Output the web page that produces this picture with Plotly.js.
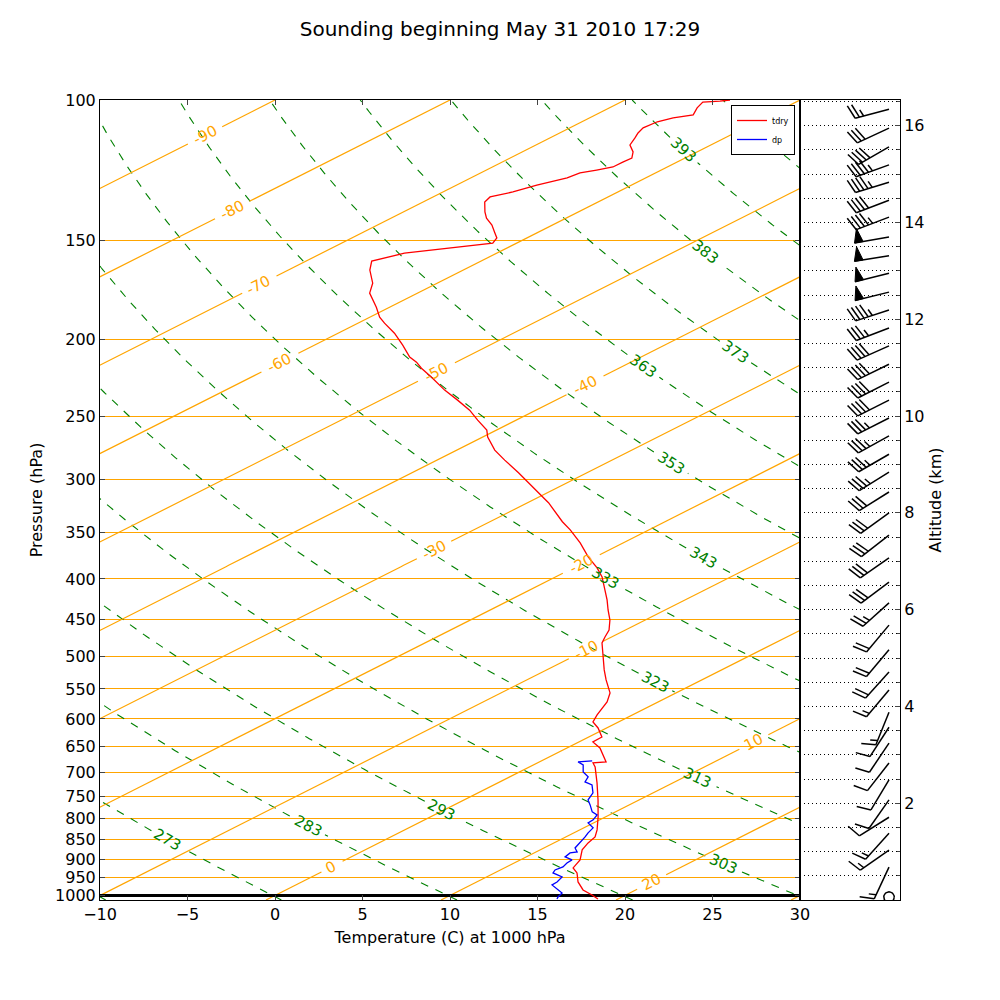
<!DOCTYPE html>
<html><head><meta charset="utf-8">
<script src="https://cdn.plot.ly/plotly-3.0.1.min.js"></script>
<style>body{margin:0;background:#fff}</style>
</head><body><div id="chart" style="width:1000px;height:1000px"></div>
<script>
// ---------------- DATA ----------------
const tdryP = [1010.2, 998.6, 984.2, 961.7, 936.9, 923.4, 902.2, 876.5, 859.0, 844.2, 827.2, 796.7, 758.4, 722.0, 689.3, 681.4, 679.4, 652.5, 641.3, 632.1, 615.8, 605.2, 593.0, 582.8, 571.1, 556.4, 535.8, 520.5, 495.6, 481.5, 473.2, 463.7, 450.5, 437.6, 425.1, 413.0, 403.5, 397.7, 387.5, 375.3, 360.4, 347.0, 339.0, 320.8, 315.3, 302.8, 294.1, 283.6, 275.5, 265.3, 260.0, 252.6, 245.4, 238.4, 231.6, 223.1, 217.4, 213.6, 210.5, 203.3, 196.4, 190.8, 187.5, 182.2, 174.9, 169.9, 163.6, 159.4, 155.8, 151.3, 149.1, 146.6, 143.6, 140.8, 138.3, 134.4, 132.4, 130.5, 127.9, 125.3, 123.5, 122.5, 121.4, 119.7, 118.3, 116.2, 113.9, 111.6, 110.0, 108.4, 106.5, 105.3, 104.4, 102.3, 100.6, 100.3, 100.0];
const tdryT = [18.85, 18.06, 16.98, 15.79, 14.71, 13.92, 13.41, 12.40, 11.95, 11.67, 10.99, 9.58, 7.65, 5.67, 3.75, 3.18, 3.81, 1.88, 0.80, 0.75, -0.49, -1.46, -2.02, -2.42, -2.92, -3.77, -5.47, -6.71, -8.69, -9.88, -10.39, -10.95, -12.03, -13.27, -14.46, -15.71, -16.73, -17.35, -18.65, -20.41, -22.45, -24.50, -25.86, -28.81, -29.83, -32.21, -33.92, -36.13, -37.83, -39.71, -40.55, -42.20, -43.79, -45.61, -47.48, -49.69, -51.28, -52.25, -53.21, -54.97, -56.79, -58.49, -59.45, -60.76, -62.74, -63.70, -65.34, -66.25, -65.27, -61.37, -61.71, -62.50, -63.46, -64.54, -65.33, -66.46, -66.74, -66.00, -65.42, -64.49, -64.32, -63.69, -63.11, -63.10, -63.04, -63.67, -64.63, -65.14, -65.53, -65.81, -65.69, -65.23, -64.42, -64.99, -65.32, -64.46, -64.00];

const dpP = [1010.2, 1004.3, 992.8, 984.2, 970.0, 961.7, 947.8, 936.9, 928.9, 920.8, 910.3, 902.2, 894.5, 884.2, 881.6, 871.5, 864.0, 856.5, 844.2, 834.3, 822.3, 810.5, 803.5, 792.0, 785.1, 769.4, 758.4, 743.2, 726.2, 719.9, 709.5, 699.3, 685.3, 679.4, 677.4];
const dpT = [16.51, 16.34, 16.12, 15.55, 14.64, 14.59, 14.31, 13.34, 13.12, 13.23, 13.01, 12.95, 12.22, 12.05, 12.34, 11.77, 11.60, 11.38, 11.10, 10.81, 10.53, 9.68, 9.63, 9.29, 8.67, 7.76, 7.08, 6.57, 5.61, 4.87, 4.48, 3.63, 2.84, 2.21, 2.90];

const pressureTicks = [100, 150, 200, 250, 300, 350, 400, 450, 500, 550, 600, 650, 700, 750, 800, 850, 900, 950, 1000];
const tempTicks = [-10, -5, 0, 5, 10, 15, 20, 25, 30];
const altTicks = [2, 4, 6, 8, 10, 12, 14, 16];

const isotherms = [-100, -90, -80, -70, -60, -50, -40, -30, -20, -10, 0, 10, 20, 30];
const isothermLabelT = [-90, -80, -70, -60, -50, -40, -30, -20, -10, 0, 10, 20];
const adiabats = [263, 273, 283, 293, 303, 313, 323, 333, 343, 353, 363, 373, 383, 393, 403, 413];
const adiabatLabelTheta = [273, 283, 293, 303, 313, 323, 333, 343, 353, 363, 373, 383, 393, 403];

const barbAlt = [16.34, 15.95, 15.56, 15.19, 14.83, 14.46, 14.11, 13.70, 13.31, 12.95, 12.56, 12.19, 11.82, 11.45, 11.07, 10.70, 10.33, 9.96, 9.59, 9.21, 8.84, 8.43, 8.00, 7.54, 7.07, 6.57, 6.14, 5.68, 5.17, 4.71, 4.34, 3.88, 3.57, 3.24, 2.83, 2.48, 2.07, 1.71, 1.38, 1.03, 0.68, 0.06];
const barbDir = [255, 245, 240, 250, 253, 249, 249, 260, 261, 256, 256, 252, 249, 246, 244, 243, 243, 243, 241, 240, 238, 238, 234, 232, 235, 233, 228, 220, 220, 222, 220, 202, 213, 214, 218, 211, 215, 238, 222, 235, 205, 0];
const barbSpeed = [25, 30, 40, 45, 45, 40, 45, 50, 50, 50, 50, 45, 35, 40, 40, 40, 40, 35, 35, 35, 35, 30, 30, 30, 30, 30, 25, 20, 20, 20, 15, 15, 10, 10, 10, 10, 10, 10, 15, 15, 15, 0];

// ---------------- LAYOUT / STYLE CONSTANTS ----------------
// label positions (pressure level where each contour label sits)
const isothermLabelP = [110.7, 137.5, 170.8, 214.1, 219.7, 228.2, 367.8, 383.0, 491.3, 920.8, 641.3, 961.7];
const adiabatLabelP = [851.6, 817.8, 780.8, 912.9, 711.7, 539.0, 398.9, 376.5, 285.9, 215.9, 207.4, 155.3, 115.6, 111.3];

const FONT = 'DejaVu Sans, Liberation Sans, sans-serif';
const ORANGE = '#FFA500', GREEN = '#008000';
const SKEW = 90, P_REF = 1000, P_BOTTOM = 1013.25, P_TOP = 100;
const X_MIN = -10, X_MAX = 30, ALT_MAX = 16.53;
const FIG_W = 1000, FIG_H = 1000;
const MARGIN = {l: 100, r: 100, t: 100, b: 100};
const PLOT_W = FIG_W - MARGIN.l - MARGIN.r, PLOT_H = FIG_H - MARGIN.t - MARGIN.b;
const MAIN_FRAC = 0.875;
const LABEL_FONT = 15;

function skewX(T, p) { return T + SKEW * Math.log10(P_REF / p); }
function sx(x) { return MARGIN.l + (x - X_MIN) / (X_MAX - X_MIN) * PLOT_W * MAIN_FRAC; }
function sy(p) { return MARGIN.t + (Math.log10(p) - Math.log10(P_TOP)) / (Math.log10(P_BOTTOM) - Math.log10(P_TOP)) * PLOT_H; }
function adiabatT(theta, p) { return theta * Math.pow(p / 1000, 0.2857) - 273.15; }

function buildLine(xfun, labels) {
  const centers = labels.map(l => ({X: sx(xfun(l.p)), Y: sy(l.p), r: l.r}));
  const xs = [], ys = [];
  const N = 600, lb = Math.log10(P_BOTTOM), lt = Math.log10(P_TOP);
  for (let i = 0; i <= N; i++) {
    const p = Math.pow(10, lb + (lt - lb) * i / N);
    const x = xfun(p);
    const X = sx(x), Y = sy(p);
    if (centers.some(c => Math.hypot(X - c.X, Y - c.Y) < c.r)) { xs.push(null); ys.push(null); }
    else { xs.push(x); ys.push(p); }
  }
  return {xs, ys};
}
function angleAt(xfun, p) {
  const p1 = p * 0.98, p2 = p * 1.02;
  const dx = sx(xfun(p1)) - sx(xfun(p2)), dy = sy(p1) - sy(p2);
  let a = Math.atan2(dy, dx) * 180 / Math.PI;
  if (a > 90) a -= 180; if (a < -90) a += 180;
  return a;
}
function labelRadius(txt) { return txt.length * 0.6 * LABEL_FONT / 2 + 5; }

const traces = [];
const annotations = [];

// dry adiabats
adiabats.forEach(th => {
  const f = p => skewX(adiabatT(th, p), p);
  const li = adiabatLabelTheta.indexOf(th);
  const labels = [];
  if (li >= 0) {
    const txt = String(th), p = adiabatLabelP[li];
    labels.push({p: p, r: labelRadius(txt)});
    annotations.push({x: f(p), y: Math.log10(p), xref: 'x', yref: 'y', text: txt, showarrow: false,
      textangle: angleAt(f, p), xanchor: 'center', yanchor: 'middle',
      font: {family: FONT, size: LABEL_FONT, color: GREEN}});
  }
  const L = buildLine(f, labels);
  traces.push({type: 'scatter', mode: 'lines', x: L.xs, y: L.ys, xaxis: 'x', yaxis: 'y', showlegend: false,
    hoverinfo: 'skip', line: {color: GREEN, width: 1.1, dash: '8px,8px'}});
});

// isotherms
isotherms.forEach(T => {
  const f = p => skewX(T, p);
  const li = isothermLabelT.indexOf(T);
  const labels = [];
  if (li >= 0) {
    const txt = String(T), p = isothermLabelP[li];
    labels.push({p: p, r: labelRadius(txt)});
    annotations.push({x: f(p), y: Math.log10(p), xref: 'x', yref: 'y', text: txt, showarrow: false,
      textangle: angleAt(f, p), xanchor: 'center', yanchor: 'middle',
      font: {family: FONT, size: LABEL_FONT, color: ORANGE}});
  }
  const L = buildLine(f, labels);
  traces.push({type: 'scatter', mode: 'lines', x: L.xs, y: L.ys, xaxis: 'x', yaxis: 'y', showlegend: false,
    hoverinfo: 'skip', line: {color: ORANGE, width: 1.2}});
});

// 1000 hPa reference line
traces.push({type: 'scatter', mode: 'lines', x: [X_MIN, X_MAX], y: [1000, 1000], showlegend: false,
  hoverinfo: 'skip', line: {color: '#000', width: 3}});

// temperature & dewpoint
traces.push({type: 'scatter', mode: 'lines', name: 'tdry', x: tdryT.map((t, i) => skewX(t, tdryP[i])), y: tdryP,
  line: {color: '#FF0000', width: 1.3}});
traces.push({type: 'scatter', mode: 'lines', name: 'dp', x: dpT.map((t, i) => skewX(t, dpP[i])), y: dpP,
  line: {color: '#0000FF', width: 1.3}});

// wind barbs
(function () {
  const kmPerPx = ALT_MAX / PLOT_H;
  const L = 35, h = 0.4 * L, w = 0.25 * L, sp = 0.125 * L, er = 0.15 * L, BX = 89;
  const lx = [], ly = [], fx = [], fy = [];
  barbAlt.forEach((a, i) => {
    const spd = Math.round(barbSpeed[i] / 5) * 5;
    const push = (ax, ay, pts) => { pts.forEach(([dx, dy]) => { ax.push(BX + dx); ay.push(a - dy * kmPerPx); }); ax.push(null); ay.push(null); };
    if (spd < 5) {
      const pts = [];
      for (let k = 0; k <= 40; k++) { const t = 2 * Math.PI * k / 40; pts.push([er * Math.cos(t), er * Math.sin(t)]); }
      push(lx, ly, pts); return;
    }
    const th = barbDir[i] * Math.PI / 180;
    const u = [Math.sin(th), -Math.cos(th)], n = [-u[1], u[0]];
    const P = (o, k = 0) => [u[0] * o + n[0] * k, u[1] * o + n[1] * k];
    push(lx, ly, [P(0), P(L)]);
    const flags = Math.floor(spd / 50), rem = spd - 50 * flags;
    const full = Math.floor(rem / 10), half = (rem % 10) >= 5;
    let off = L;
    for (let f = 0; f < flags; f++) { if (off !== L) off += sp / 2; push(fx, fy, [P(off), P(off - w / 2, h), P(off - w), P(off)]); off -= w + sp; }
    for (let b = 0; b < full; b++) { push(lx, ly, [P(off), P(off + w / 2, h)]); off -= sp; }
    if (half) { if (off === L) off -= 1.5 * sp; push(lx, ly, [P(off), P(off + w / 4, h / 2)]); }
  });
  traces.push({type: 'scatter', mode: 'lines', x: lx, y: ly, xaxis: 'x2', yaxis: 'y2', showlegend: false,
    hoverinfo: 'skip', line: {color: '#000', width: 1.5}});
  traces.push({type: 'scatter', mode: 'lines', x: fx, y: fy, xaxis: 'x2', yaxis: 'y2', showlegend: false,
    hoverinfo: 'skip', fill: 'toself', fillcolor: '#000', line: {color: '#000', width: 1}});
})();

const axisFont = {family: FONT, size: 16, color: '#000'};
const layout = {
  width: FIG_W, height: FIG_H,
  margin: MARGIN,
  paper_bgcolor: '#fff', plot_bgcolor: '#fff',
  font: {family: FONT, color: '#000'},
  title: {text: 'Sounding beginning May 31 2010 17:29', font: {family: FONT, size: 20, color: '#000'},
    x: 0.5, xanchor: 'center', xref: 'paper', y: 1 - 29 / FIG_H, yref: 'container', yanchor: 'middle'},
  showlegend: true,
  legend: {x: (795 - MARGIN.l) / PLOT_W, xanchor: 'right', y: 1 - (105 - MARGIN.t) / PLOT_H, yanchor: 'top',
    bgcolor: '#fff', bordercolor: '#000', borderwidth: 1, font: {family: FONT, size: 8, color: '#000'},
    itemwidth: 30, tracegroupgap: 0},
  xaxis: {domain: [0, MAIN_FRAC], range: [X_MIN, X_MAX], tickvals: tempTicks, ticks: 'inside', ticklen: 5,
    showline: true, linecolor: '#000', linewidth: 1, mirror: 'ticks', showgrid: false, zeroline: false,
    tickfont: axisFont, anchor: 'y',
    title: {text: 'Temperature (C) at 1000 hPa', font: axisFont, standoff: 8}},
  yaxis: {type: 'log', range: [Math.log10(P_BOTTOM), Math.log10(P_TOP)], tickvals: pressureTicks,
    ticktext: pressureTicks.map(String), ticks: 'inside', ticklen: 5, showline: true, linecolor: '#000',
    linewidth: 1, mirror: 'ticks', showgrid: true, gridcolor: ORANGE, gridwidth: 1, zeroline: false,
    tickfont: axisFont, anchor: 'x',
    title: {text: 'Pressure (hPa)', font: axisFont, standoff: 8}},
  xaxis2: {domain: [MAIN_FRAC, 1], range: [0, 100], showticklabels: false, ticks: '', showline: true,
    linecolor: '#000', linewidth: 1, mirror: true, showgrid: false, zeroline: false, anchor: 'y2'},
  yaxis2: {domain: [0, 1], anchor: 'x2', side: 'right', range: [0, ALT_MAX], tickvals: altTicks,
    ticks: 'inside', ticklen: 5, showline: true, linecolor: '#000', linewidth: 1, mirror: true,
    showgrid: true, gridcolor: '#000', gridwidth: 1, griddash: '1px,3px', zeroline: false, tickfont: axisFont,
    minor: {dtick: 0.5, tick0: 0, showgrid: true, gridcolor: '#000', gridwidth: 1, griddash: '1px,3px', ticks: 'inside', ticklen: 3},
    title: {text: 'Altitude (km)', font: axisFont, standoff: 6}},
  annotations: annotations
};

Plotly.newPlot('chart', traces, layout, {staticPlot: true, displayModeBar: false}).then(gd => {
  // keep the legend box above the contour labels, as in the reference
  const leg = gd.querySelector('g.legend');
  if (leg && leg.parentNode) leg.parentNode.appendChild(leg);
});
</script>
</body></html>
